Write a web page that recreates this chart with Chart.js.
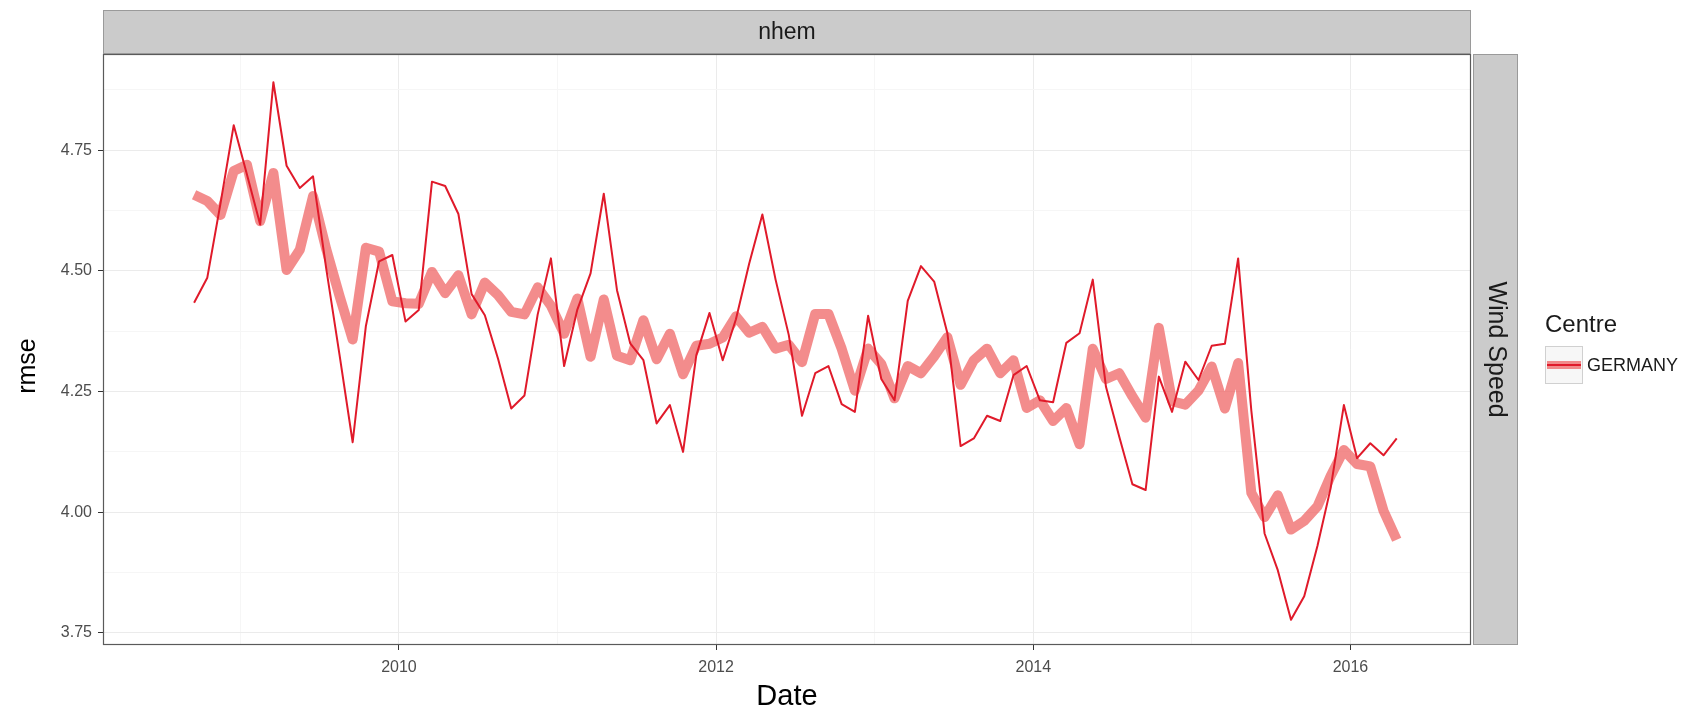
<!DOCTYPE html>
<html>
<head>
<meta charset="utf-8">
<script src="https://cdn.jsdelivr.net/npm/chart.js@4.4.1/dist/chart.umd.min.js"></script>
<style>
  html, body { margin: 0; padding: 0; background: #ffffff; }
  #wrap { width: 1708px; height: 715px; position: relative; }
  canvas { display: block; }
</style>
</head>
<body>
<div id="wrap"><canvas id="chart" width="1708" height="715"></canvas></div>
<script>
// Monthly verification dates (YYYY-MM)
const months = [
  '2008-09','2008-10','2008-11','2008-12',
  '2009-01','2009-02','2009-03','2009-04','2009-05','2009-06','2009-07','2009-08','2009-09','2009-10','2009-11','2009-12',
  '2010-01','2010-02','2010-03','2010-04','2010-05','2010-06','2010-07','2010-08','2010-09','2010-10','2010-11','2010-12',
  '2011-01','2011-02','2011-03','2011-04','2011-05','2011-06','2011-07','2011-08','2011-09','2011-10','2011-11','2011-12',
  '2012-01','2012-02','2012-03','2012-04','2012-05','2012-06','2012-07','2012-08','2012-09','2012-10','2012-11','2012-12',
  '2013-01','2013-02','2013-03','2013-04','2013-05','2013-06','2013-07','2013-08','2013-09','2013-10','2013-11','2013-12',
  '2014-01','2014-02','2014-03','2014-04','2014-05','2014-06','2014-07','2014-08','2014-09','2014-10','2014-11','2014-12',
  '2015-01','2015-02','2015-03','2015-04','2015-05','2015-06','2015-07','2015-08','2015-09','2015-10','2015-11','2015-12',
  '2016-01','2016-02','2016-03','2016-04'
];

// Monthly wind speed RMSE (thin line)
const rmseMonthly = [
  4.434, 4.486, 4.640, 4.802,
  4.700, 4.596, 4.891, 4.718, 4.672, 4.696, 4.505, 4.327, 4.145, 4.386, 4.520, 4.533,
  4.395, 4.419, 4.685, 4.676, 4.618, 4.452, 4.408, 4.318, 4.215, 4.242, 4.410, 4.526,
  4.303, 4.420, 4.495, 4.660, 4.460, 4.350, 4.315, 4.184, 4.222, 4.125, 4.325, 4.413,
  4.315, 4.400, 4.515, 4.617, 4.482, 4.367, 4.200, 4.288, 4.303, 4.224, 4.208, 4.407,
  4.276, 4.232, 4.438, 4.510, 4.478, 4.371, 4.137, 4.153, 4.200, 4.189, 4.284, 4.303,
  4.232, 4.228, 4.351, 4.371, 4.482, 4.260, 4.157, 4.058, 4.046, 4.281, 4.208, 4.312,
  4.274, 4.345, 4.349, 4.526, 4.210, 3.956, 3.880, 3.777, 3.826, 3.930, 4.050, 4.222,
  4.112, 4.143, 4.118, 4.153
];

// Companion RMSE series (thick translucent line)
const rmseSmooth = [
  4.658, 4.645, 4.616, 4.707,
  4.720, 4.603, 4.703, 4.502, 4.544, 4.655, 4.545, 4.449, 4.358, 4.548, 4.540, 4.437,
  4.433, 4.432, 4.498, 4.454, 4.491, 4.410, 4.476, 4.450, 4.415, 4.410, 4.466, 4.428,
  4.370, 4.443, 4.322, 4.441, 4.324, 4.315, 4.398, 4.317, 4.370, 4.286, 4.345, 4.349,
  4.362, 4.406, 4.372, 4.384, 4.339, 4.347, 4.311, 4.411, 4.411, 4.339, 4.252, 4.339,
  4.307, 4.236, 4.303, 4.288, 4.323, 4.363, 4.264, 4.315, 4.339, 4.288, 4.315, 4.216,
  4.232, 4.189, 4.216, 4.141, 4.339, 4.276, 4.288, 4.240, 4.196, 4.382, 4.230, 4.223,
  4.252, 4.302, 4.215, 4.309, 4.040, 3.990, 4.035, 3.964, 3.982, 4.012, 4.075, 4.129,
  4.100, 4.095, 4.003, 3.943
];

// Axis tick labels
const yTicks = [3.75, 4.00, 4.25, 4.50, 4.75];
const xTicks = [2010, 2012, 2014, 2016];

// Facet, axis and legend text
const panelLabel = 'nhem';
const rowLabel = 'Wind Speed';
const yTitle = 'rmse';
const xTitle = 'Date';
const legendTitle = 'Centre';
const seriesName = 'GERMANY';

// Dates are placed mid-month on a decimal-year axis
function toYear(m) {
  const [y, mo] = m.split('-').map(Number);
  return y + (mo - 0.5) / 12;
}
const xs = months.map(toYear);
const thinPts = xs.map((x, i) => ({ x, y: rmseMonthly[i] }));
const thickPts = xs.map((x, i) => ({ x, y: rmseSmooth[i] }));

// Minor grid positions halfway between major breaks
function minorsOf(major) {
  const step = major[1] - major[0];
  const out = [];
  for (let i = 0; i < major.length; i++) {
    out.push(major[i] - step / 2);
  }
  out.push(major[major.length - 1] + step / 2);
  return out;
}
const yMinor = minorsOf(yTicks);
const xMinor = minorsOf(xTicks);

const isMajor = (list, v) => list.some(t => Math.abs(t - v) < 1e-9);

const THIN_RED = '#E01A2A';
const THICK_RED = 'rgba(238, 96, 96, 0.72)';
const FONT = '"Liberation Sans", Arial, Helvetica, sans-serif';

const facetPlugin = {
  id: 'facetDecor',
  beforeDraw(chart) {
    const ctx = chart.ctx;
    ctx.save();
    ctx.fillStyle = '#ffffff';
    ctx.fillRect(0, 0, chart.width, chart.height);
    ctx.restore();
  },
  afterDraw(chart) {
    const ctx = chart.ctx;
    const a = chart.chartArea;
    ctx.save();

    // panel border
    ctx.strokeStyle = '#5a5a5a';
    ctx.lineWidth = 1.2;
    ctx.strokeRect(a.left + 0.5, a.top + 0.5, a.right - a.left - 1, a.bottom - a.top - 1);

    // y axis title
    ctx.save();
    ctx.translate(28, 366);
    ctx.rotate(-Math.PI / 2);
    ctx.fillStyle = '#000000';
    ctx.font = '25px ' + FONT;
    ctx.textAlign = 'center';
    ctx.textBaseline = 'middle';
    ctx.fillText(yTitle, 0, 0);
    ctx.restore();

    // top strip
    const stripTop = 10;
    ctx.fillStyle = '#CBCBCB';
    ctx.fillRect(a.left, stripTop, a.right - a.left, a.top - stripTop);
    ctx.strokeStyle = '#9a9a9a';
    ctx.lineWidth = 1;
    ctx.strokeRect(a.left + 0.5, stripTop + 0.5, a.right - a.left - 1, a.top - stripTop - 1);
    ctx.fillStyle = '#1a1a1a';
    ctx.font = '23px ' + FONT;
    ctx.textAlign = 'center';
    ctx.textBaseline = 'middle';
    ctx.fillText(panelLabel, (a.left + a.right) / 2, (stripTop + a.top) / 2 + 1);

    // right strip
    const rsLeft = a.right + 2, rsRight = 1518;
    ctx.fillStyle = '#CBCBCB';
    ctx.fillRect(rsLeft, a.top, rsRight - rsLeft, a.bottom - a.top);
    ctx.strokeStyle = '#9a9a9a';
    ctx.strokeRect(rsLeft + 0.5, a.top + 0.5, rsRight - rsLeft - 1, a.bottom - a.top - 1);
    ctx.save();
    ctx.translate((rsLeft + rsRight) / 2, (a.top + a.bottom) / 2);
    ctx.rotate(Math.PI / 2);
    ctx.fillStyle = '#1a1a1a';
    ctx.font = '25px ' + FONT;
    ctx.textAlign = 'center';
    ctx.textBaseline = 'middle';
    ctx.fillText(rowLabel, 0, 0);
    ctx.restore();

    // legend
    const lx = 1545, ly = 346, ks = 38;
    ctx.fillStyle = '#1a1a1a';
    ctx.font = '24px ' + FONT;
    ctx.textAlign = 'left';
    ctx.textBaseline = 'middle';
    ctx.fillText(legendTitle, lx, 325);
    ctx.fillStyle = '#f7f7f7';
    ctx.fillRect(lx, ly, ks, ks);
    ctx.strokeStyle = '#d0d0d0';
    ctx.lineWidth = 1;
    ctx.strokeRect(lx + 0.5, ly + 0.5, ks - 1, ks - 1);
    ctx.lineCap = 'butt';
    ctx.strokeStyle = THICK_RED;
    ctx.lineWidth = 8;
    ctx.beginPath();
    ctx.moveTo(lx + 2, ly + ks / 2);
    ctx.lineTo(lx + ks - 2, ly + ks / 2);
    ctx.stroke();
    ctx.strokeStyle = THIN_RED;
    ctx.lineWidth = 2;
    ctx.beginPath();
    ctx.moveTo(lx + 2, ly + ks / 2);
    ctx.lineTo(lx + ks - 2, ly + ks / 2);
    ctx.stroke();
    ctx.fillStyle = '#1a1a1a';
    ctx.font = '18px ' + FONT;
    ctx.fillText(seriesName, lx + ks + 4, ly + ks / 2 + 1);

    ctx.restore();
  }
};

new Chart(document.getElementById('chart'), {
  type: 'line',
  data: {
    datasets: [
      {
        label: seriesName,
        data: thinPts,
        borderColor: THIN_RED,
        borderWidth: 2,
        pointRadius: 0,
        tension: 0,
        borderJoinStyle: 'round',
        order: 0
      },
      {
        label: seriesName + ' (smoothed)',
        data: thickPts,
        borderColor: THICK_RED,
        borderWidth: 10,
        pointRadius: 0,
        tension: 0,
        borderJoinStyle: 'round',
        borderCapStyle: 'butt',
        order: 1
      }
    ]
  },
  options: {
    responsive: false,
    animation: false,
    devicePixelRatio: 1,
    layout: { padding: { top: 54, right: 237, left: 0, bottom: 0 } },
    plugins: {
      legend: { display: false },
      tooltip: { enabled: false }
    },
    scales: {
      x: {
        type: 'linear',
        min: 2008.134,
        max: 2016.76,
        afterBuildTicks(scale) {
          scale.ticks = xTicks.concat(xMinor)
            .filter(v => v >= scale.min && v <= scale.max)
            .sort((p, q) => p - q)
            .map(v => ({ value: v }));
        },
        afterFit(scale) { scale.height = 70; },
        border: { display: false },
        grid: {
          color: c => isMajor(xTicks, c.tick.value) ? '#EBEBEB' : '#F6F6F6',
          lineWidth: 1,
          drawTicks: true,
          tickLength: 5,
          tickColor: c => isMajor(xTicks, c.tick.value) ? '#333333' : 'rgba(0,0,0,0)'
        },
        ticks: {
          autoSkip: false,
          maxRotation: 0,
          padding: 8,
          color: '#4D4D4D',
          font: { family: FONT, size: 16 },
          callback: v => isMajor(xTicks, v) ? String(v) : ''
        },
        title: {
          display: true,
          text: xTitle,
          color: '#000000',
          font: { family: FONT, size: 29 },
          padding: { top: 0, bottom: 1 }
        }
      },
      y: {
        type: 'linear',
        min: 3.7249,
        max: 4.9495,
        afterBuildTicks(scale) {
          scale.ticks = yTicks.concat(yMinor)
            .filter(v => v >= scale.min && v <= scale.max)
            .sort((p, q) => p - q)
            .map(v => ({ value: v }));
        },
        afterFit(scale) { scale.width = 103; },
        border: { display: false },
        grid: {
          color: c => isMajor(yTicks, c.tick.value) ? '#EBEBEB' : '#F6F6F6',
          lineWidth: 1,
          drawTicks: true,
          tickLength: 5,
          tickColor: c => isMajor(yTicks, c.tick.value) ? '#333333' : 'rgba(0,0,0,0)'
        },
        ticks: {
          autoSkip: false,
          padding: 6,
          color: '#4D4D4D',
          font: { family: FONT, size: 16 },
          callback: v => isMajor(yTicks, v) ? v.toFixed(2) : ''
        },
        title: { display: false }
      }
    }
  },
  plugins: [facetPlugin]
});
</script>
</body>
</html>
